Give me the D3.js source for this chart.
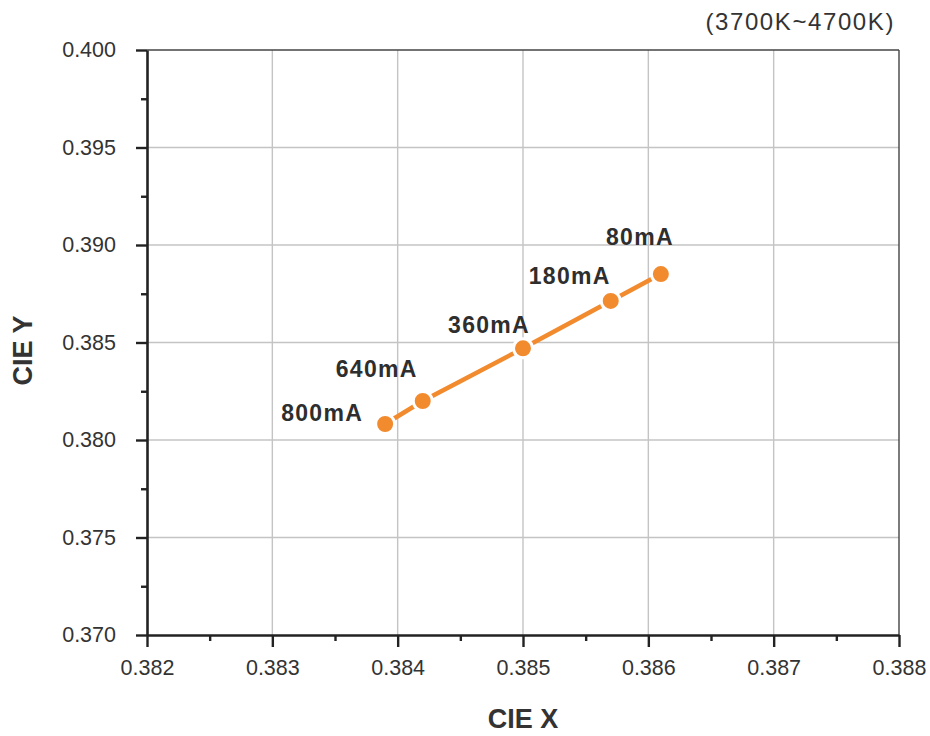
<!DOCTYPE html>
<html>
<head>
<meta charset="utf-8">
<script src="https://cdn.jsdelivr.net/npm/d3@7"></script>
<style>
  html, body { margin: 0; padding: 0; background: #fff; }
  svg { display: block; font-family: "Liberation Sans", Arial, sans-serif; }
</style>
</head>
<body>
<svg id="chart" width="930" height="736"></svg>
<script>
// ---- data ----
const currents = ["800mA", "640mA", "360mA", "180mA", "80mA"];
const cieX = [0.3839, 0.3842, 0.3850, 0.3857, 0.3861];
const cieY = [0.38082, 0.38200, 0.38470, 0.38713, 0.38851];
const xTicks = [0.382, 0.383, 0.384, 0.385, 0.386, 0.387, 0.388];
const yTicks = [0.370, 0.375, 0.380, 0.385, 0.390, 0.395, 0.400];
const rangeNote = "(3700K~4700K)";

// label offsets (layout only): [dx from point to text end, dy to baseline]
const labelOffsets = [[-22, -3], [-5, -24], [7, -15], [0, -17], [13, -29]];

const svg = d3.select("#chart");
const L = 147, R = 899, T = 50, B = 635;

const x = d3.scaleLinear().domain([0.382, 0.388]).range([L, R]);
const y = d3.scaleLinear().domain([0.370, 0.400]).range([B, T]);

// grid
const grid = svg.append("g");
grid.selectAll("line.vx").data(xTicks.slice(1, -1)).enter().append("line")
  .attr("x1", d => x(d)).attr("x2", d => x(d)).attr("y1", T).attr("y2", B)
  .attr("stroke", "#c4c4c4").attr("stroke-width", 1.4);
grid.selectAll("line.hy").data(yTicks.slice(1, -1)).enter().append("line")
  .attr("x1", L).attr("x2", R).attr("y1", d => y(d)).attr("y2", d => y(d))
  .attr("stroke", "#c4c4c4").attr("stroke-width", 1.4);

// top & right border
svg.append("line").attr("x1", L).attr("x2", R).attr("y1", T).attr("y2", T)
  .attr("stroke", "#444").attr("stroke-width", 1.4);
svg.append("line").attr("x1", R).attr("x2", R).attr("y1", T).attr("y2", B)
  .attr("stroke", "#444").attr("stroke-width", 1.4);

const tickFont = 21.5;
// x axis
const xAxis = d3.axisBottom(x).tickValues(xTicks).tickFormat(d3.format(".3f")).tickSizeInner(12).tickSizeOuter(0).tickPadding(13);
const gx = svg.append("g").attr("transform", `translate(0,${B})`).call(xAxis);
gx.select(".domain").attr("stroke", "#222").attr("stroke-width", 2.6);
gx.selectAll(".tick line").attr("stroke", "#222").attr("stroke-width", 2.4);
gx.selectAll(".tick text").attr("font-size", tickFont).attr("fill", "#333").attr("font-family", "Liberation Sans, Arial, sans-serif");
const gxm = svg.append("g").attr("transform", `translate(0,${B})`)
  .call(d3.axisBottom(x).tickValues([0.3825, 0.3835, 0.3845, 0.3855, 0.3865, 0.3875]).tickFormat("").tickSizeInner(6).tickSizeOuter(0));
gxm.select(".domain").remove();
gxm.selectAll(".tick line").attr("stroke", "#222").attr("stroke-width", 2.4);

// y axis
const yAxis = d3.axisLeft(y).tickValues(yTicks).tickFormat(d3.format(".3f")).tickSizeInner(11).tickSizeOuter(0).tickPadding(20);
const gy = svg.append("g").attr("transform", `translate(${L},0)`).call(yAxis);
gy.select(".domain").attr("stroke", "#222").attr("stroke-width", 2.6);
gy.selectAll(".tick line").attr("stroke", "#222").attr("stroke-width", 2.4);
gy.selectAll(".tick text").attr("font-size", tickFont).attr("fill", "#333").attr("font-family", "Liberation Sans, Arial, sans-serif");
const gym = svg.append("g").attr("transform", `translate(${L},0)`)
  .call(d3.axisLeft(y).tickValues([0.3725, 0.3775, 0.3825, 0.3875, 0.3925, 0.3975]).tickFormat("").tickSizeInner(6).tickSizeOuter(0));
gym.select(".domain").remove();
gym.selectAll(".tick line").attr("stroke", "#222").attr("stroke-width", 2.4);

// axis titles
svg.append("text").attr("x", (L + R) / 2).attr("y", 728)
  .attr("text-anchor", "middle").attr("font-size", 27).attr("font-weight", "bold")
  .attr("fill", "#333").text("CIE X");
svg.append("text").attr("transform", `translate(32,${(T + B) / 2 + 8}) rotate(-90)`)
  .attr("text-anchor", "middle").attr("font-size", 27).attr("font-weight", "bold")
  .attr("fill", "#333").text("CIE Y");

// range note
svg.append("text").attr("x", 895).attr("y", 30).attr("text-anchor", "end")
  .attr("font-size", 24).attr("letter-spacing", 1.6).attr("fill", "#333").text(rangeNote);

// series
const pts = currents.map((c, i) => ({ c, x: cieX[i], y: cieY[i], off: labelOffsets[i] }));
const orange = "#f28a2e";
svg.append("path").datum(pts)
  .attr("d", d3.line().x(d => x(d.x)).y(d => y(d.y)))
  .attr("fill", "none").attr("stroke", orange).attr("stroke-width", 4.5);
svg.selectAll("circle.pt").data(pts).enter().append("circle")
  .attr("cx", d => x(d.x)).attr("cy", d => y(d.y)).attr("r", 9.5)
  .attr("fill", orange).attr("stroke", "#fff").attr("stroke-width", 3);

svg.selectAll("text.lbl").data(pts).enter().append("text")
  .attr("x", d => x(d.x) + d.off[0]).attr("y", d => y(d.y) + d.off[1])
  .attr("text-anchor", "end").attr("font-size", 23).attr("font-weight", "bold")
  .attr("letter-spacing", 1.3).attr("fill", "#2e2e2e").text(d => d.c);
</script>
</body>
</html>
